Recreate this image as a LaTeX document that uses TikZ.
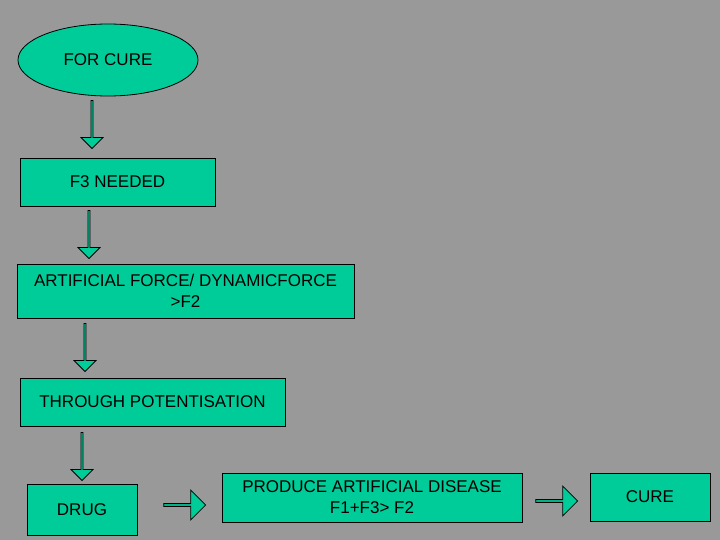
\documentclass[tikz,border=0pt]{standalone}
\usepackage{fontspec}
\setmainfont{Liberation Sans}
\usetikzlibrary{positioning,shapes.geometric,shapes.arrows}
\definecolor{bggray}{RGB}{153,153,153}
\definecolor{boxgreen}{RGB}{0,204,153}
\tikzset{
  box/.style={draw,fill=boxgreen,align=center,inner sep=0pt,font=\fontsize{8.5}{10.5}\selectfont},
  blk/.style={draw,fill=boxgreen,single arrow,inner sep=0pt,minimum width=11pt,single arrow head extend=2pt,single arrow tip angle=90},
}
\begin{document}
\begin{tikzpicture}[x=0.5pt,y=-0.5pt]
  \fill[bggray] (0,0) rectangle (720,540);
  \useasboundingbox (0,0) rectangle (720,540);

  \node[box,ellipse,minimum width=90pt,minimum height=36pt] (cure1) at (108,60) {FOR CURE};
  \node[box,minimum width=97.5pt,minimum height=24pt] (f3) at (117.5,182) {F3 NEEDED};
  \node[box,minimum width=168.5pt,minimum height=27pt] (force) at (185.5,291) {ARTIFICIAL FORCE/ DYNAMICFORCE\\ \hspace*{0pt}>F2};
  \node[box,minimum width=132.5pt,minimum height=24pt] (potent) at (152.5,402) {THROUGH POTENTISATION};
  \node[box,minimum width=55pt,minimum height=25.5pt] (drug) at (82,509.5) {DRUG};
  \node[box,minimum width=150pt,minimum height=24.5pt] (produce) at (372,497.5) {PRODUCE ARTIFICIAL DISEASE\\F1+F3> F2};
  \node[box,minimum width=60pt,minimum height=24pt] (cure2) at (650,497) {CURE};

  % block arrows
  \node[blk,rotate=-90,minimum height=24pt] (a1) at (92,124) {};
  \node[blk,rotate=-90,minimum height=24pt] (a2) at (89,234) {};
  \node[blk,rotate=-90,minimum height=24pt] (a3) at (85,347) {};
  \node[blk,rotate=-90,minimum height=24pt] (a4) at (82,456) {};
  \node[blk,minimum height=21pt,minimum width=15pt] (a5) at (184,505) {};
  \node[blk,minimum height=21pt,minimum width=15pt] (a6) at (556,501) {};
\end{tikzpicture}
\end{document}
